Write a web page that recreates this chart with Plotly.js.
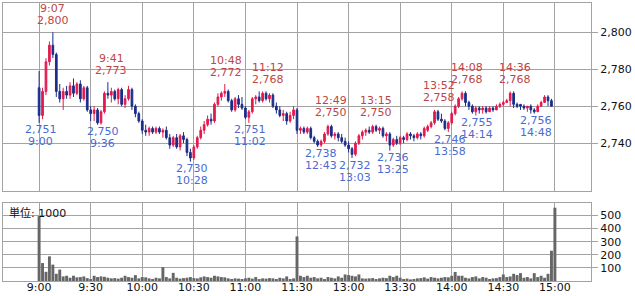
<!DOCTYPE html>
<html>
<head>
<meta charset="utf-8">
<script src="https://cdn.plot.ly/plotly-3.0.1.min.js"></script>
<style>html,body{margin:0;padding:0;background:#fff;}#chart{width:635px;height:296px;}</style>
</head>
<body>
<div id="chart"></div>
<script>
// 2-minute bars, morning 9:00-11:28, afternoon 12:30-14:58, plus 15:00 close
const barTimes = [];
for (let m = 9*60; m < 11*60+30; m += 2) barTimes.push(Math.floor(m/60) + ":" + String(m%60).padStart(2,"0"));
for (let m = 12*60+30; m < 15*60; m += 2) barTimes.push(Math.floor(m/60) + ":" + String(m%60).padStart(2,"0"));
barTimes.push("15:00");

const open = [2770,2755,2768,2784,2793,2788,2768,2764,2768,2766,2771,2767,2772,2764,2770,2758,2756,2758,2751,2757,
2767,2766,2768,2764,2769,2761,2764,2769,2760,2756,2752,2747,2746,2748,2746,2748,2746,2747,2743,2739,
2743,2738,2744,2742,2735,2732,2738,2743,2747,2750,2753,2752,2761,2765,2767,2768,2763,2758,2764,2761,
2759,2754,2757,2764,2765,2763,2767,2764,2766,2760,2758,2755,2756,2752,2755,
2758,2747,2748,2746,2748,2743,2741,2739,2741,2745,2749,2744,2745,2743,2741,2739,2737,2734,2740,2744,
2746,2747,2746,2749,2747,2748,2744,2745,2739,2742,2740,2743,2742,2745,2744,2743,2745,2744,2747,2749,
2751,2757,2753,2752,2748,2751,2756,2760,2764,2767,2762,2760,2757,2759,2758,2759,2757,2759,2758,2760,
2761,2762,2763,2767,2761,2761,2760,2759,2760,2758,2757,2760,2762,2765,2763,2760];
const high = [2779,2770,2786,2795,2800,2789,2772,2770,2771,2773,2775,2773,2774,2771,2771,2760,2760,2759,2758,2768,
2773,2770,2769,2770,2770,2766,2771,2770,2761,2757,2753,2750,2749,2749,2749,2749,2748,2749,2745,2744,
2745,2745,2746,2743,2737,2739,2744,2749,2752,2755,2756,2762,2767,2768,2772,2769,2764,2765,2766,2765,
2760,2758,2765,2766,2768,2768,2768,2767,2767,2762,2760,2758,2757,2757,2760,
2759,2749,2749,2749,2749,2744,2742,2742,2746,2750,2750,2746,2746,2745,2743,2741,2738,2741,2745,2747,
2748,2749,2750,2750,2749,2749,2746,2746,2743,2744,2744,2744,2746,2746,2745,2746,2746,2749,2750,2752,
2758,2758,2756,2753,2752,2757,2761,2765,2768,2768,2763,2761,2760,2760,2760,2760,2760,2760,2761,2762,
2763,2764,2768,2768,2762,2761,2761,2760,2761,2759,2761,2763,2766,2766,2764,2769];
const low = [2751,2753,2766,2782,2786,2765,2762,2758,2764,2764,2765,2766,2762,2763,2757,2752,2752,2750,2750,2756,
2764,2762,2763,2761,2760,2759,2763,2758,2754,2751,2745,2744,2744,2745,2745,2745,2743,2742,2737,2738,
2737,2736,2740,2733,2730,2731,2737,2742,2745,2749,2750,2751,2760,2763,2765,2762,2757,2757,2759,2758,
2753,2751,2756,2761,2762,2762,2763,2762,2759,2756,2754,2752,2750,2751,2753,
2745,2745,2745,2745,2742,2740,2738,2738,2740,2744,2743,2742,2741,2740,2738,2735,2732,2733,2739,2742,
2744,2745,2745,2746,2745,2743,2741,2736,2738,2739,2739,2740,2741,2742,2741,2742,2742,2743,2746,2748,
2750,2752,2751,2747,2746,2750,2755,2759,2763,2760,2758,2756,2755,2756,2756,2756,2757,2757,2759,2759,
2760,2762,2760,2759,2759,2758,2758,2757,2756,2756,2759,2761,2762,2760,2760];
const close = [2755,2768,2784,2793,2788,2768,2764,2768,2766,2771,2767,2772,2764,2770,2758,2756,2758,2751,2757,2767,
2766,2768,2764,2769,2761,2764,2769,2760,2756,2752,2747,2746,2748,2746,2748,2746,2747,2743,2739,2743,
2738,2744,2742,2735,2732,2738,2743,2747,2750,2753,2752,2761,2765,2767,2768,2763,2758,2764,2761,2759,
2754,2757,2764,2765,2763,2767,2764,2766,2760,2758,2755,2756,2752,2755,2758,
2747,2748,2746,2748,2743,2741,2739,2741,2745,2749,2744,2745,2743,2741,2739,2737,2734,2740,2744,2746,
2747,2746,2749,2747,2748,2744,2745,2739,2742,2740,2743,2742,2745,2744,2743,2745,2744,2748,2749,2751,
2757,2753,2752,2748,2751,2756,2760,2764,2767,2762,2760,2757,2759,2758,2759,2757,2759,2758,2760,2761,
2762,2763,2767,2761,2760,2760,2759,2760,2758,2757,2760,2762,2765,2763,2760,2768];
const volume = [495,137,70,188,125,55,87,35,40,25,40,28,30,35,22,15,40,30,35,32,
25,20,22,18,25,40,30,25,45,20,30,28,20,15,25,20,105,30,20,62,
25,18,22,25,30,22,20,28,35,30,25,40,35,30,28,20,15,20,18,15,
20,25,18,30,15,20,18,22,20,15,25,20,35,15,20,
340,40,30,40,25,30,20,25,15,30,25,20,35,25,50,45,40,35,50,20,
18,20,22,15,20,25,22,40,30,40,25,15,18,12,15,20,22,28,18,30,
25,20,25,30,28,40,69,40,40,25,20,30,35,20,30,25,15,20,22,30,
50,30,35,55,45,60,25,30,20,60,30,40,25,55,231,559];

const highTimes = ["9:07","9:41","10:48","11:12","12:49","13:15","13:52","14:08","14:36"];
const highVals  = [2800,2773,2772,2768,2750,2750,2758,2768,2768];
const lowTimes  = ["9:00","9:36","10:28","11:02","12:43","13:03","13:25","13:58","14:14","14:48"];
const lowVals   = [2751,2750,2730,2751,2738,2732,2736,2746,2755,2756];

const tickLabels = ["9:00","9:30","10:00","10:30","11:00","11:30","13:00","13:30","14:00","14:30","15:00"];
const tickTimes  = ["9:00","9:30","10:00","10:30","11:00","12:30","13:00","13:30","14:00","14:30","15:00"];
const priceTicks = [2740,2760,2780,2800];
const volTicks = [100,200,300,400,500];

// session time -> continuous minute index (lunch break removed)
function pos(t){ const [h,m]=t.split(":").map(Number); const v=h*60+m; return v>=12*60+30 ? v-(12*60+30)+150 : v-9*60; }
const xs = barTimes.map(pos);

const RED="#e3194f", NAVY="#1b2d88", GRID="#a3a3a3";
const FONT="DejaVu Sans, Noto Sans CJK JP, sans-serif";

const traces = [
 {type:"candlestick", x:xs, open:open, high:high, low:low, close:close, xaxis:"x2", yaxis:"y2",
  increasing:{line:{color:RED,width:1}, fillcolor:RED},
  decreasing:{line:{color:NAVY,width:1}, fillcolor:NAVY},
  whiskerwidth:0, hoverinfo:"skip", showlegend:false},
 {type:"bar", x:xs, y:volume, xaxis:"x", yaxis:"y", width:1.7,
  marker:{color:"#666666", line:{width:0}}, hoverinfo:"skip", showlegend:false}
];

const ann = [];
const fmt = v => v.toLocaleString("en-US");
highTimes.forEach((t,i)=>{
  ann.push({x:pos(t), y:highVals[i], xref:"x2", yref:"y2", text:fmt(highVals[i]), showarrow:false,
    xanchor:"center", yanchor:"middle", yshift:12, xshift:1.5, font:{family:FONT,size:11,color:"#bd4646"}});
  ann.push({x:pos(t), y:highVals[i], xref:"x2", yref:"y2", text:t, showarrow:false,
    xanchor:"center", yanchor:"middle", yshift:24, xshift:1.5, font:{family:FONT,size:11,color:"#bd4646"}});
});
lowTimes.forEach((t,i)=>{
  ann.push({x:pos(t), y:lowVals[i], xref:"x2", yref:"y2", text:fmt(lowVals[i]), showarrow:false,
    xanchor:"center", yanchor:"middle", yshift:-7, xshift:1.5, font:{family:FONT,size:11,color:"#4a6bd0"}});
  ann.push({x:pos(t), y:lowVals[i], xref:"x2", yref:"y2", text:t, showarrow:false,
    xanchor:"center", yanchor:"middle", yshift:-19, xshift:1.5, font:{family:FONT,size:11,color:"#4a6bd0"}});
});
ann.push({xref:"paper", yref:"paper", x:0, y:0.2806, xanchor:"left", yanchor:"top", xshift:4, yshift:-1,
  text:"単位: 1000", showarrow:false, font:{family:FONT,size:11,color:"#111"}});

const xv = tickTimes.map(pos);
const layout = {
  width:635, height:296, margin:{l:3,r:44,t:3,b:15},
  paper_bgcolor:"#fff", plot_bgcolor:"#fff",
  font:{family:FONT,size:11,color:"#111"},
  xaxis:{domain:[0,1], anchor:"y", range:[-21,321], tickvals:xv, ticktext:tickLabels, ticks:"",
    showgrid:true, gridcolor:GRID, gridwidth:1, showline:true, mirror:true, linecolor:GRID, zeroline:false,
    ticklabelstandoff:-4, automargin:false,
    tickfont:{family:FONT,size:11,color:"#111"}, fixedrange:true},
  xaxis2:{domain:[0,1], anchor:"y2", matches:"x", range:[-21,321], tickvals:xv, showticklabels:false, ticks:"",
    showgrid:true, gridcolor:GRID, gridwidth:1, showline:true, mirror:true, linecolor:GRID, zeroline:false,
    rangeslider:{visible:false}},
  yaxis:{domain:[0,0.2806], anchor:"x", side:"right", range:[0,595], tickvals:volTicks,
    showgrid:true, gridcolor:GRID, showline:true, mirror:true, linecolor:GRID, zeroline:false,
    ticks:"outside", ticklen:6, tickcolor:GRID, tickfont:{family:FONT,size:11,color:"#111"}},
  yaxis2:{domain:[0.324,1], anchor:"x2", side:"right", range:[2714.2,2815.8], tickvals:priceTicks, tickformat:",d",
    showgrid:true, gridcolor:GRID, showline:true, mirror:true, linecolor:GRID, zeroline:false,
    ticks:"outside", ticklen:6, tickcolor:GRID, tickfont:{family:FONT,size:11,color:"#111"}},
  annotations:ann, showlegend:false
};
Plotly.newPlot("chart", traces, layout, {staticPlot:true, displayModeBar:false});
</script>
</body>
</html>
